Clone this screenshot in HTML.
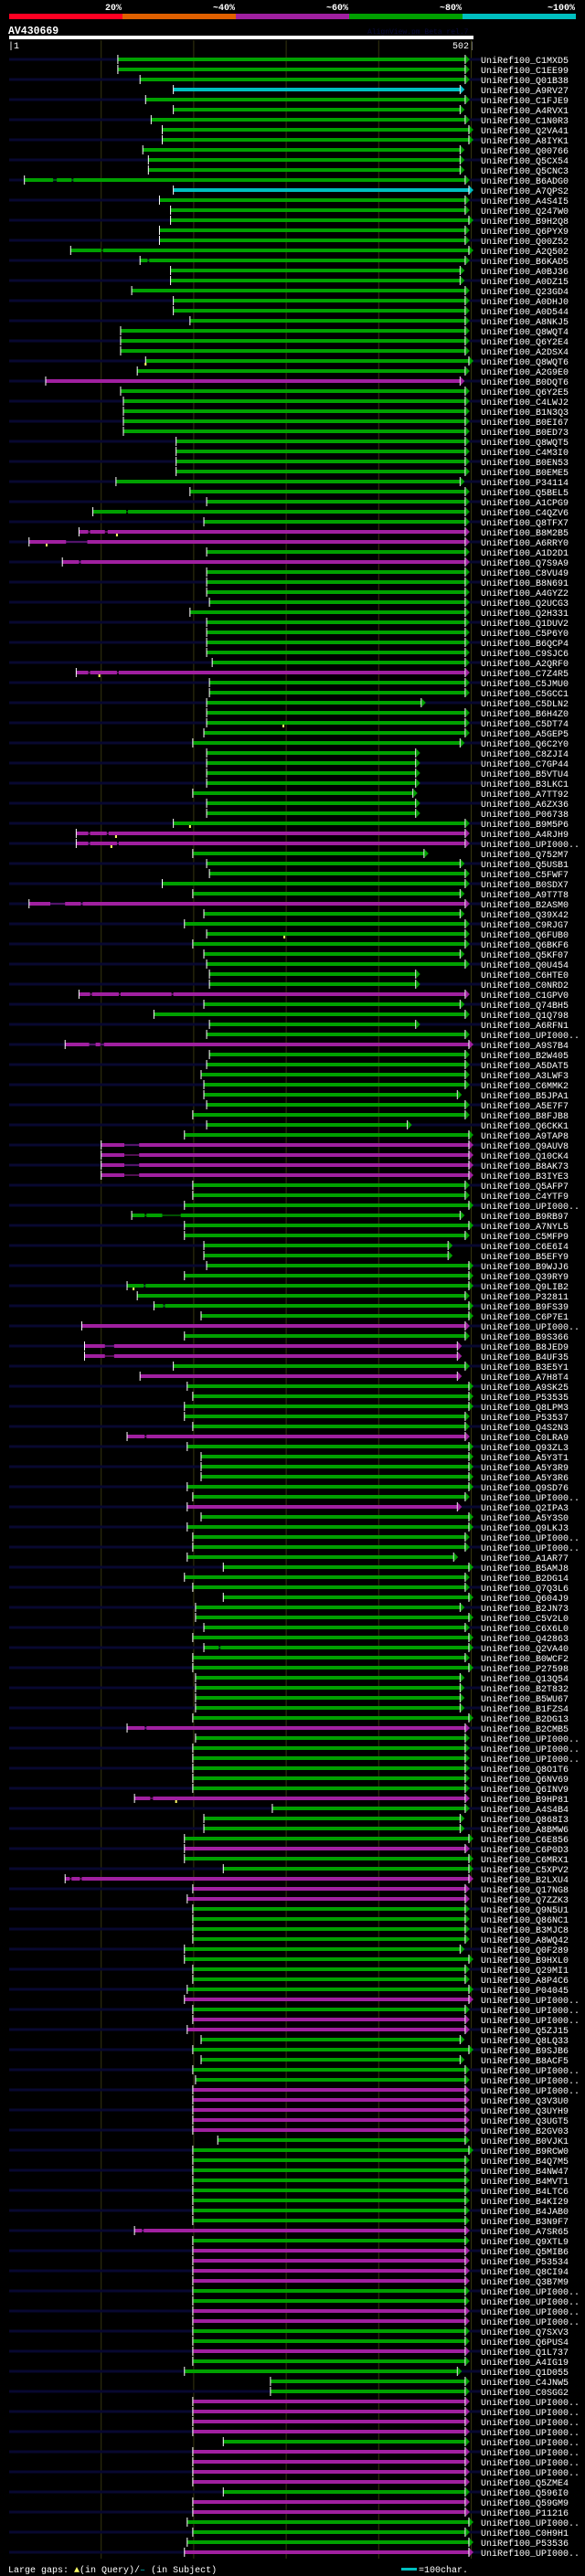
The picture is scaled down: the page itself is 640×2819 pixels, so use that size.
<!DOCTYPE html>
<html><head><meta charset="utf-8"><title>AV430669 alignment view</title>
<style>
html,body{margin:0;padding:0;background:#000;}
svg{display:block;}
text{font-family:"Liberation Mono",monospace;}
</style></head>
<body>
<svg id="chart" width="640" height="2819" viewBox="0 0 640 2819" xmlns="http://www.w3.org/2000/svg">
<rect x="0" y="0" width="640" height="2819" fill="#000"/>
<g>
<rect x="10" y="15" width="124" height="6" fill="#ff0022"/>
<rect x="134" y="15" width="124" height="6" fill="#e06000"/>
<rect x="258" y="15" width="124" height="6" fill="#a020a0"/>
<rect x="382" y="15" width="124" height="6" fill="#00a000"/>
<rect x="506" y="15" width="124" height="6" fill="#00c0c0"/>
<g fill="#fff" font-weight="bold" font-size="10" text-anchor="end">
<text x="133" y="11">20%</text>
<text x="257" y="11">~40%</text>
<text x="381" y="11">~60%</text>
<text x="505" y="11">~80%</text>
<text x="629" y="11">~100%</text>
</g>
</g>
<text x="9" y="37" fill="#fff" font-weight="bold" font-size="11.5">AV430669</text>
<text x="402" y="37" fill="#0a0a3a" font-size="8">AlignView.pm Beta rel.7</text>
<rect x="10" y="39" width="508" height="4" fill="#fff"/>
<text x="9" y="53" fill="#fff" font-size="10">|1</text>
<text x="519" y="53" fill="#fff" font-size="10" text-anchor="end">502|</text>
<g id="grid"></g>
<g id="rows"></g>
<g>
<text x="9" y="2815" fill="#fff" font-size="10">Large gaps: <tspan fill="#ffff66">▲</tspan>(in Query)/<tspan fill="#00c0c0">–</tspan> (in Subject)</text>
<rect x="439" y="2810" width="17" height="3" fill="#00c0c0"/>
<text x="458" y="2815" fill="#fff" font-size="10">=100char.</text>
</g>
</svg>
<script>
var names=["C1MXD5","C1EE99","Q01B38","A9RV27","C1FJE9","A4RVX1","C1N0R3","Q2VA41","A8IYK1","Q00766","Q5CX54","Q5CNC3","B6ADG0","A7QPS2","A4S4I5","Q247W0","B9H2Q8","Q6PYX9","Q00Z52","A2Q502","B6KAD5","A0BJ36","A0DZ15","Q23GD4","A0DHJ0",
"A0D544","A8NKJ5","Q8WQT4","Q6Y2E4","A2DSX4","Q8WQT6","A2G9E0","B0DQT6","Q6Y2E5","C4LWJ2","B1N3Q3","B0EI67","B0ED73","Q8WQT5","C4M3I0","B0EN53","B0EME5","P34114","Q5BEL5","A1CPG9","C4QZV6","Q8TFX7","B8M2B5","A6RRY0","A1D2D1",
"Q7S9A9","C8VU49","B8N691","A4GYZ2","Q2UCG3","Q2H331","Q1DUV2","C5P6Y0","B6QCP4","C9SJC6","A2QRF0","C7Z4R5","C5JMU0","C5GCC1","C5DLN2","B6H4Z0","C5DT74","A5GEP5","Q6C2Y0","C8ZJI4","C7GP44","B5VTU4","B3LKC1","A7TT92","A6ZX36",
"P06738","B9M5P6","A4RJH9","UPI000..","Q752M7","Q5USB1","C5FWF7","B0SDX7","A9T7T8","B2ASM0","Q39X42","C9RJG7","Q6FUB0","Q6BKF6","Q5KF07","Q0U454","C6HTE0","C0NRD2","C1GPV0","Q74BH5","Q1Q798","A6RFN1","UPI000..","A9S7B4","B2W405",
"A5DAT5","A3LWF3","C6MMK2","B5JPA1","A5E7F7","B8FJB8","Q6CKK1","A9TAP8","Q9AUV8","Q10CK4","B8AK73","B3IYE3","Q5AFP7","C4YTF9","UPI000..","B9RB97","A7NYL5","C5MFP9","C6E6I4","B5EFY9","B9WJJ6","Q39RY9","Q9LIB2","P32811","B9FS39",
"C6P7E1","UPI000..","B9S366","B8JED9","B4UF35","B3E5Y1","A7H8T4","A9SK25","P53535","Q8LPM3","P53537","Q4S2N3","C0LRA9","Q93ZL3","A5Y3T1","A5Y3R9","A5Y3R6","Q9SD76","UPI000..","Q2IPA3","A5Y3S0","Q9LKJ3","UPI000..","UPI000..","A1AR77",
"B5AMJ8","B2DG14","Q7Q3L6","Q604J9","B2JN73","C5V2L0","C6X6L0","Q42863","Q2VA40","B0WCF2","P27598","Q13Q54","B2T832","B5WU67","B1FZS4","B2DG13","B2CMB5","UPI000..","UPI000..","UPI000..","Q8O1T6","Q6NV69","Q6INV9","B9HP81","A4S4B4",
"Q868I3","A8BMW6","C6E856","C6P0D3","C6MRX1","C5XPV2","B2LXU4","Q17NG8","Q7ZZK3","Q9N5U1","Q86NC1","B3MJC8","A8WQ42","Q0F289","B9HXL0","Q29MI1","A8P4C6","P04045","UPI000..","UPI000..","UPI000..","Q5ZJ15","Q8LQ33","B9SJB6","B8ACF5",
"UPI000..","UPI000..","UPI000..","Q3V3U0","Q3UYH9","Q3UGT5","B2GV03","B0VJK1","B9RCW0","B4Q7M5","B4NW47","B4MVT1","B4LTC6","B4KI29","B4JAB0","B3N9F7","A7SR65","Q9XTL9","Q5MIB6","P53534","Q8CI94","Q3B7M9","UPI000..","UPI000..",
"UPI000..","UPI000..","Q7SXV3","Q6PUS4","Q1L737","A4IG19","Q1D055","C4JNW5","C0SGG2","UPI000..","UPI000..","UPI000..","UPI000..","UPI000..","UPI000..","UPI000..","UPI000..","Q5ZME4","Q596I0","Q59GM9","P11216","UPI000..","C0H9H1","P53536","UPI000.."];
var magentaRows=[32,47,48,50,61,77,78,84,93,98,108,109,110,111,126,128,129,131,137,144,166,173,178,181,182,183,193,195,196,202,203,204,205,206,216,218,219,220,221,224,225,228,233,234,235,236,238,239,240,241,243,244,248];
var cyanRows=[3,13];
var starts=[118,118,142,178,148,178,154,166,166,145,151,151,17,178,163,175,175,163,163,67,142,175,175,133,178,
178,196,121,121,121,148,139,40,121,124,124,124,124,181,181,181,181,116,196,214,91,211,76,22,214,
58,214,214,214,217,196,214,214,214,214,220,73,217,217,214,214,214,211,199,214,214,214,214,199,214,
214,178,73,73,199,214,217,166,199,22,211,190,214,199,211,214,217,217,76,211,157,217,214,61,217,
214,208,211,211,214,199,214,190,100,100,100,100,199,199,190,133,190,190,211,211,214,190,128,139,157,
208,79,190,82,82,178,142,193,199,190,190,199,128,193,208,208,208,193,199,193,208,193,199,199,193,
232,190,199,232,202,202,211,199,211,199,199,202,202,202,202,199,128,202,199,199,199,199,199,136,285,
211,211,190,190,190,232,61,199,193,199,199,199,199,190,190,199,199,193,190,199,199,193,208,199,208,
199,202,199,199,199,199,199,226,199,199,199,199,199,199,199,199,136,199,199,199,199,199,199,199,
199,199,199,199,199,199,190,283,283,199,199,199,199,232,199,199,199,199,232,199,199,193,199,193,190];
var ends=[493.5,493.5,493.5,488,493.5,488,493.5,497.5,497.5,488,488,488,493.5,497.5,493.5,493.5,497.5,493.5,493.5,497.5,493.5,488,488,493.5,493.5,
493.5,493.5,493.5,493.5,493.5,497.5,493.5,488,493.5,493.5,493.5,493.5,493.5,493.5,493.5,493.5,493.5,488,493.5,493.5,493.5,493.5,493.5,493.5,493.5,
493.5,493.5,493.5,493.5,493.5,493.5,493.5,493.5,493.5,493.5,493.5,493.5,493.5,493.5,446,493.5,493.5,493.5,488,440,440,440,440,437,440,
440,493.5,493.5,493.5,449,488,493.5,493.5,488,493.5,488,493.5,493.5,493.5,488,493.5,440,440,493.5,488,493.5,440,493.5,497.5,493.5,
493.5,493.5,493.5,485,493.5,493.5,431,497.5,497.5,497.5,497.5,497.5,493.5,493.5,497.5,488,497.5,493.5,475,475,497.5,497.5,497.5,493.5,497.5,
497.5,493.5,493.5,485,485,493.5,485,497.5,497.5,497.5,493.5,493.5,493.5,497.5,497.5,497.5,497.5,497.5,493.5,485,497.5,497.5,493.5,493.5,481,
497.5,493.5,493.5,497.5,488,497.5,493.5,497.5,497.5,493.5,497.5,488,488,488,488,497.5,493.5,493.5,493.5,493.5,493.5,493.5,493.5,493.5,493.5,
488,488,497.5,493.5,497.5,497.5,497.5,493.5,493.5,493.5,493.5,493.5,493.5,488,497.5,493.5,493.5,497.5,497.5,493.5,493.5,493.5,488,497.5,488,
493.5,493.5,493.5,493.5,493.5,493.5,493.5,493.5,497.5,493.5,493.5,493.5,493.5,493.5,493.5,493.5,493.5,493.5,493.5,493.5,493.5,493.5,493.5,493.5,
493.5,493.5,493.5,493.5,493.5,493.5,485,493.5,493.5,493.5,493.5,493.5,493.5,493.5,493.5,493.5,493.5,493.5,493.5,493.5,493.5,497.5,493.5,497.5,497.5];
var gapRows=[12,19,20,45,47,48,50,61,77,78,84,93,98,108,109,110,111,115,122,124,128,129,137,158,166,173,181,216];
var gapRanges=[[[48,52],[68,70]],[[100,102]],[[150,152]],[[127,129]],[[86,88],[104,107]],[[62,85]],[[76,78]],[[86,88],[117,119]],[[86,88],[106,108]],[[86,88],[117,119]],[[45,61],[78,80]],[[88,90],[119,121],[176,178]],[[87,94],[99,103]],[[125,141]],[[125,141]],[[125,141]],[[125,141]],[[147,149],[166,186]],[[146,148]],[[167,169]],[[104,114]],[[104,114]],[[147,149]],[[227,229]],[[147,149]],[[153,156]],[[66,68],[77,79]],[[144,146]]];
var markRows=[30,47,48,61,66,76,77,78,87,122,173];
var markPos=[148,117,41,98,297,196,116,111,298,135,181];
var gridTicks=[100,200,300,400,500];

var NS="http://www.w3.org/2000/svg";
function xScale(p){return 9.5+p*1.012;}
function yRow(i){return 65+11*i;}
function rowColor(i){
  if(cyanRows.indexOf(i)>=0)return "#00c0c0";
  if(magentaRows.indexOf(i)>=0)return "#a020a0";
  return "#00a000";
}
function mk(tag,attrs,parent){var e=document.createElementNS(NS,tag);for(var k in attrs)e.setAttribute(k,attrs[k]);parent.appendChild(e);return e;}

var grid=document.getElementById("grid");
gridTicks.forEach(function(t){
  var l=mk("line",{x1:xScale(t),x2:xScale(t),y1:44,y2:2800,stroke:"#35350f","stroke-width":1},grid);
  
  
});

var rowsG=document.getElementById("rows");
for(var i=0;i<names.length;i++){
  var y=yRow(i);
  var g=mk("g",{},rowsG);
  
  
  if(i%2===0){
    var s=mk("rect",{x:10,y:y-1.5,width:516,height:3,fill:"#080830"},g);
    
    
  }
  var col=rowColor(i);
  var x0=xScale(starts[i]),x1=xScale(ends[i]);
  var gi=gapRows.indexOf(i);
  var gaps=gi>=0?gapRanges[gi]:[];
  var segStart=x0;
  var pieces=[];
  gaps.forEach(function(r){pieces.push([segStart,xScale(r[0])]);segStart=xScale(r[1]);});
  pieces.push([segStart,x1]);
  if(gaps.length){
    var thin=mk("rect",{x:x0,y:y-0.5,width:x1-x0,height:1,fill:col},g);
    
    
  }
  pieces.forEach(function(p){
    var b=mk("rect",{x:p[0],y:y-2,width:Math.max(0,p[1]-p[0]),height:4,fill:col},g);
    
    
  });
  var st=mk("rect",{x:x0-0.5,y:y-5,width:1,height:10,fill:"#fff"},g);
  
  
  var et=mk("rect",{x:x1-0.5,y:y-5,width:1,height:10,fill:"#fff"},g);
  
  
  var ar=mk("polygon",{points:(x1+0.5)+","+(y-4.5)+" "+(x1+5)+","+y+" "+(x1+0.5)+","+(y+4.5),fill:col},g);
  
  
  var mi=markRows.indexOf(i);
  if(mi>=0){
    var mx=xScale(markPos[mi]);
    var q=mk("rect",{x:mx-1,y:y+2,width:2,height:3,fill:"#ffff66"},g);
    
    
  }
  var t=mk("text",{x:526,y:y+4,fill:"#fff","font-size":10},g);
  t.textContent="UniRef100_"+names[i];
  
  
}
</script>
</body></html>
